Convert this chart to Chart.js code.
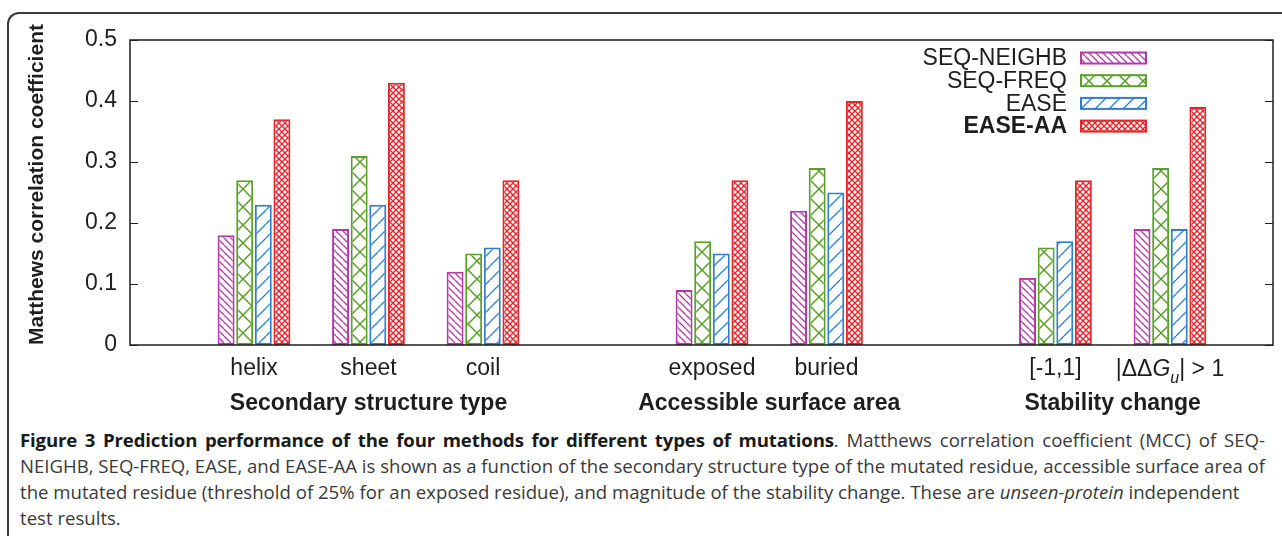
<!DOCTYPE html>
<html>
<head>
<meta charset="utf-8">
<script src="https://cdn.jsdelivr.net/npm/chart.js@4.4.1/dist/chart.umd.min.js"></script>
<style>
  html, body { margin: 0; padding: 0; background: #fff; }
  body { width: 1282px; height: 536px; position: relative; overflow: hidden; }
  #frame {
    position: absolute; left: 7px; top: 12px; width: 1320px; height: 600px;
    border-top: 2px solid #3a3a3a; border-left: 2px solid #3a3a3a;
    border-top-left-radius: 12px; box-sizing: border-box;
  }
  #wrap { position: absolute; left: 0; top: 0; width: 1282px; height: 425px; }
  #caption {
    position: absolute; left: 20px; top: 427px; width: 1245px;
    font-family: "Open Sans", sans-serif; font-size: 18.6px; line-height: 26px; color: #3a3a3a;
  }
  #caption div { white-space: nowrap; }
  #caption div.j { white-space: normal; text-align: justify; text-align-last: justify; word-spacing: -1px; }
  #caption b { color: #1a1a1a; letter-spacing: -0.14px; }
</style>
</head>
<body>
<div id="frame"></div>
<div id="wrap"><canvas id="chart" width="1282" height="425"></canvas></div>
<div id="caption">
  <div class="j"><b>Figure 3 Prediction performance of the four methods for different types of mutations</b>. Matthews correlation coefficient (MCC) of SEQ-</div>
  <div class="j">NEIGHB, SEQ-FREQ, EASE, and EASE-AA is shown as a function of the secondary structure type of the mutated residue, accessible surface area of</div>
  <div>the mutated residue (threshold of 25% for an exposed residue), and magnitude of the stability change. These are <i>unseen-protein</i> independent</div>
  <div>test results.</div>
</div>
<script>
// Mutation categories; empty strings are spacer slots between the three groups.
const categories = ['helix', 'sheet', 'coil', '', 'exposed', 'buried', '', '[-1,1]', '|ΔΔG_u| > 1'];

// Matthews correlation coefficient per method
const seqNeighb = [0.18, 0.19, 0.12, null, 0.09, 0.22, null, 0.11, 0.19];
const seqFreq   = [0.27, 0.31, 0.15, null, 0.17, 0.29, null, 0.16, 0.29];
const ease      = [0.23, 0.23, 0.16, null, 0.15, 0.25, null, 0.17, 0.19];
const easeAA    = [0.37, 0.43, 0.27, null, 0.27, 0.40, null, 0.27, 0.39];

const methodNames = ['SEQ-NEIGHB', 'SEQ-FREQ', 'EASE', 'EASE-AA'];
const yTicks = [0, 0.1, 0.2, 0.3, 0.4, 0.5];
const yTitle = 'Matthews correlation coefficient';

const groupTitles  = ['Secondary structure type', 'Accessible surface area', 'Stability change'];
const groupMembers = [['helix', 'sheet', 'coil'], ['exposed', 'buried'], ['[-1,1]', '|ΔΔG_u| > 1']];

const FONT = '"Liberation Sans", Arial, Helvetica, sans-serif';
const INK = '#1e1e1e';
const FS = 23;

// Hatch fills
function hatch(color, size, dirs, lw) {
  const c = document.createElement('canvas');
  c.width = c.height = size;
  const g = c.getContext('2d');
  g.fillStyle = '#fff';
  g.fillRect(0, 0, size, size);
  g.strokeStyle = color;
  g.lineWidth = lw;
  for (const d of dirs) {
    g.beginPath();
    for (const o of [-size, 0, size]) {
      if (d === '/') { g.moveTo(o, size); g.lineTo(o + size, 0); }
      else { g.moveTo(o, 0); g.lineTo(o + size, size); }
    }
    g.stroke();
  }
  return g.createPattern(c, 'repeat');
}

const colors = ['#b23aa8', '#5a9f2a', '#2f7dcc', '#e5272d'];
const fills = [
  hatch(colors[0], 7, ['\\'], 1.3),
  hatch(colors[1], 18, ['/', '\\'], 1.5),
  hatch(colors[2], 14, ['/'], 1.3),
  hatch(colors[3], 6, ['/', '\\'], 1.4)
];

const seriesValues = [seqNeighb, seqFreq, ease, easeAA];
const toPoints = vals => vals.map((v, i) => ({ x: i, y: v })).filter(p => p.y !== null);

const datasets = seriesValues.map((vals, k) => ({
  label: methodNames[k],
  data: toPoints(vals),
  backgroundColor: fills[k],
  borderColor: colors[k],
  borderWidth: 2,
  borderSkipped: false,
  categoryPercentage: 0.65,
  barPercentage: 0.91
}));

// Labels with an italic symbol and a subscript, e.g. "|ΔΔG_u| > 1"
function isRich(label) { return label.includes('_'); }
function drawRich(ctx, label, cx, cy) {
  const m = label.match(/^(.*?)([A-Za-z])_([a-z])(.*)$/);
  const segs = [
    { t: m[1], f: `${FS}px ${FONT}`, dy: 0 },
    { t: m[2], f: `italic ${FS}px ${FONT}`, dy: 0 },
    { t: m[3], f: `italic 16px ${FONT}`, dy: 7 },
    { t: m[4], f: `${FS}px ${FONT}`, dy: 0 }
  ];
  let w = 0;
  segs.forEach(s => { ctx.font = s.f; s.w = ctx.measureText(s.t).width; w += s.w; });
  let x = cx - w / 2;
  ctx.textAlign = 'left';
  ctx.textBaseline = 'alphabetic';
  segs.forEach(s => { ctx.font = s.f; ctx.fillText(s.t, x, cy + s.dy); x += s.w; });
}

const decorations = {
  id: 'decorations',
  afterDraw(chart) {
    const { ctx, chartArea: a, scales: { x, y } } = chart;
    ctx.save();
    ctx.fillStyle = INK;
    ctx.strokeStyle = INK;

    // plot frame
    ctx.lineWidth = 1.5;
    ctx.strokeRect(a.left, a.top, a.right - a.left, a.bottom - a.top);

    // inward y tick marks on both sides
    ctx.lineWidth = 1.2;
    ctx.beginPath();
    yTicks.forEach(v => {
      const py = Math.round(y.getPixelForValue(v)) + 0.5;
      ctx.moveTo(a.left, py); ctx.lineTo(a.left + 8, py);
      ctx.moveTo(a.right, py); ctx.lineTo(a.right - 8, py);
    });
    ctx.stroke();

    // vertical axis title
    ctx.save();
    ctx.translate(37, (a.top + a.bottom) / 2 - 8);
    ctx.rotate(-Math.PI / 2);
    ctx.font = `bold 21px ${FONT}`;
    ctx.textAlign = 'center';
    ctx.textBaseline = 'middle';
    ctx.fillText(yTitle, 0, 0);
    ctx.restore();

    // rich category labels
    categories.forEach((c, i) => {
      if (isRich(c)) drawRich(ctx, c, x.getPixelForValue(i), a.bottom + 31);
    });

    // group titles under each block of categories
    ctx.font = `bold ${FS}px ${FONT}`;
    ctx.textAlign = 'center';
    ctx.textBaseline = 'middle';
    groupTitles.forEach((t, g) => {
      const idx = groupMembers[g].map(m => categories.indexOf(m));
      const mid = (Math.min(...idx) + Math.max(...idx)) / 2;
      ctx.fillText(t, x.getPixelForValue(mid), a.bottom + 59);
    });

    // legend (text right-aligned, swatch to the right)
    const textRight = a.right - 206;
    const swLeft = a.right - 192;
    chart.data.datasets.forEach((ds, k) => {
      const cy = a.top + 18 + k * 22.7;
      ctx.font = (k === 3 ? 'bold ' : '') + `${FS}px ${FONT}`;
      ctx.textAlign = 'right';
      ctx.textBaseline = 'middle';
      ctx.fillStyle = INK;
      ctx.fillText(ds.label, textRight, cy + 1);
      ctx.fillStyle = ds.backgroundColor;
      ctx.fillRect(swLeft, cy - 6, 66, 12);
      ctx.strokeStyle = ds.borderColor;
      ctx.lineWidth = 2;
      ctx.strokeRect(swLeft, cy - 5.5, 65, 11);
    });
    ctx.restore();
  }
};

new Chart(document.getElementById('chart'), {
  type: 'bar',
  data: { datasets },
  plugins: [decorations],
  options: {
    responsive: false,
    animation: false,
    layout: { padding: { left: 20, right: 9, top: 40, bottom: 0 } },
    plugins: { legend: { display: false }, tooltip: { enabled: false } },
    scales: {
      x: {
        type: 'linear',
        offset: false,
        min: -1.083,
        max: 8.9,
        grid: { display: false, drawTicks: false },
        border: { display: false },
        afterBuildTicks: s => { s.ticks = categories.map((c, i) => ({ value: i })); },
        afterFit: s => { s.height = 80; },
        ticks: {
          autoSkip: false,
          maxRotation: 0,
          padding: 10,
          color: INK,
          font: { family: FONT, size: FS },
          callback: v => { const l = categories[v]; return l && !isRich(l) ? l : ''; }
        }
      },
      y: {
        min: 0,
        max: 0.5,
        grid: { display: false, drawTicks: false },
        border: { display: false },
        afterBuildTicks: s => { s.ticks = yTicks.map(v => ({ value: v })); },
        afterFit: s => { s.width = 110; },
        ticks: {
          padding: 13,
          color: INK,
          font: { family: FONT, size: FS },
          callback: v => String(v)
        },
        title: { display: false }
      }
    }
  }
});
</script>
</body>
</html>
